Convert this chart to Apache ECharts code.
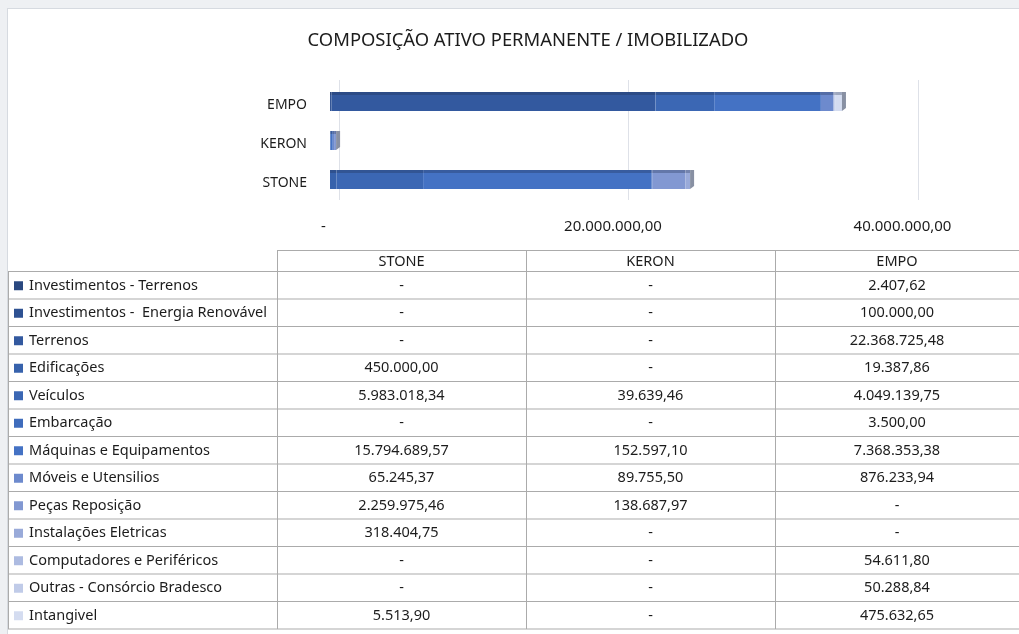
<!DOCTYPE html>
<html>
<head>
<meta charset="utf-8">
<script src="https://cdn.jsdelivr.net/npm/echarts@6/dist/echarts.min.js"></script>
<style>
  html, body { margin: 0; padding: 0; background: #fff; }
  #chart { width: 1019px; height: 634px; }
</style>
</head>
<body>
<div id="chart"></div>
<script>
// data
const categories = ["STONE", "KERON", "EMPO"];
const itemNames = [
  "Investimentos - Terrenos",
  "Investimentos -  Energia Renovável",
  "Terrenos",
  "Edificações",
  "Veículos",
  "Embarcação",
  "Máquinas e Equipamentos",
  "Móveis e Utensilios",
  "Peças Reposição",
  "Instalações Eletricas",
  "Computadores e Periféricos",
  "Outras - Consórcio Bradesco",
  "Intangivel",
];
const stoneValues = [null, null, null, 450000.0, 5983018.34, null, 15794689.57, 65245.37, 2259975.46, 318404.75, null, null, 5513.9];
const keronValues = [null, null, null, null, 39639.46, null, 152597.1, 89755.5, 138687.97, null, null, null, null];
const empoValues = [2407.62, 100000.0, 22368725.48, 19387.86, 4049139.75, 3500.0, 7368353.38, 876233.94, null, null, 54611.8, 50288.84, 475632.65];
const axisTicks = [0, 20000000, 40000000];

const palette = [
  "#2A4880", "#2E5192", "#33599F", "#3762AC", "#3B67B4", "#3F6CBC",
  "#4472C4", "#6D8ACD", "#8298D2", "#99AAD9", "#ADBBE1", "#C0CBE8", "#D4DCF0",
];

const FONT = "Noto Sans";
const TEXT = "#1C1C1C";

const fmt = (v) => {
  if (v == null || v === 0) return "-";
  let parts = v.toFixed(2).split(".");
  let int = parts[0].replace(/\B(?=(\d{3})+(?!\d))/g, ".");
  return int + "," + parts[1];
};

const mix = (c1, c2, t) => {
  let a = parseInt(c1.slice(1), 16), b = parseInt(c2.slice(1), 16);
  let r = Math.round(((a >> 16) & 255) * (1 - t) + ((b >> 16) & 255) * t);
  let g = Math.round(((a >> 8) & 255) * (1 - t) + ((b >> 8) & 255) * t);
  let bl = Math.round((a & 255) * (1 - t) + (b & 255) * t);
  return "rgb(" + r + "," + g + "," + bl + ")";
};

const barFill = (base) =>
  new echarts.graphic.LinearGradient(0, 0, 0, 1, [
    { offset: 0, color: mix(base, "#1C2A4A", 0.3) },
    { offset: 0.16, color: mix(base, "#1C2A4A", 0.3) },
    { offset: 0.16, color: base },
    { offset: 1, color: base },
  ]);

let chart = echarts.init(document.getElementById("chart"), null, { renderer: "canvas" });

let barSeries = itemNames.map((name, i) => ({
  type: "bar",
  name: name,
  stack: "total",
  barWidth: 19,
  xAxisIndex: 0,
  yAxisIndex: 0,
  data: [stoneValues[i], keronValues[i], empoValues[i]],
  itemStyle: { color: barFill(palette[i]) },
  emphasis: { disabled: true },
}));

// end face of each 3d bar
const totals = categories.map((c, k) => {
  let arr = [stoneValues, keronValues, empoValues][k];
  return arr.reduce((s, v) => s + (v || 0), 0);
});

let capSeries = {
  type: "custom",
  xAxisIndex: 0,
  yAxisIndex: 0,
  data: totals.map((t, k) => [t, k]),
  renderItem: (params, api) => {
    let p = api.coord([api.value(0), api.value(1)]);
    let x = p[0], y = p[1];
    return {
      type: "polygon",
      shape: { points: [[x, y - 9.5], [x + 4, y - 9.5], [x + 4, y + 6.5], [x, y + 9.5]] },
      style: { fill: "#8890A3" },
    };
  },
  z: 3,
};

// data table below the chart
const tableTop = 250;
const headerBottom = 271.5;
const rowH = 27.5;
const colX = [8, 277, 526, 775, 1030];
const lineColor = "#ABABAB";
let table = [];

const hline = (x1, x2, y) => ({
  type: "line",
  shape: { x1: x1, y1: y, x2: x2, y2: y },
  style: { stroke: lineColor, lineWidth: 1 },
  silent: true,
});
const vline = (x, y1, y2) => ({
  type: "line",
  shape: { x1: x, y1: y1, x2: x, y2: y2 },
  style: { stroke: lineColor, lineWidth: 1 },
  silent: true,
});
const cell = (txt, x, y, align) => ({
  type: "text",
  x: x,
  y: y,
  style: {
    text: txt, fill: TEXT, font: "14.5px '" + FONT + "'",
    textAlign: align || "center", textVerticalAlign: "middle",
  },
  silent: true,
});

let tableBottom = headerBottom + rowH * itemNames.length;
table.push(hline(colX[1], colX[4], tableTop + 0.5));
for (let r = 0; r <= itemNames.length; r++) {
  table.push(hline(colX[0], colX[4], headerBottom + r * rowH));
}
table.push(vline(colX[0] + 0.5, headerBottom, tableBottom));
for (let c = 1; c < 4; c++) {
  table.push(vline(colX[c] + 0.5, tableTop, tableBottom));
}
categories.forEach((name, c) => {
  table.push(cell(name, (colX[c + 1] + Math.min(colX[c + 2], 1019)) / 2, (tableTop + headerBottom) / 2 + 1.5));
});
const columns = [stoneValues, keronValues, empoValues];
itemNames.forEach((name, r) => {
  let yc = headerBottom + r * rowH + rowH / 2 + 0.5;
  table.push({
    type: "rect",
    shape: { x: 14, y: yc - 4.5, width: 9, height: 9 },
    style: { fill: palette[r] },
    silent: true,
  });
  table.push(cell(name, 29, yc, "left"));
  columns.forEach((vals, c) => {
    table.push(cell(fmt(vals[r]), (colX[c + 1] + Math.min(colX[c + 2], 1019)) / 2, yc));
  });
});

// outer frame strips
let frame = [
  { type: "rect", shape: { x: 0, y: 0, width: 1019, height: 8 }, style: { fill: "#EEF0F3" }, silent: true, z: -10 },
  { type: "rect", shape: { x: 0, y: 0, width: 7, height: 634 }, style: { fill: "#EEF0F3" }, silent: true, z: -10 },
  { type: "line", shape: { x1: 7, y1: 8.5, x2: 1019, y2: 8.5 }, style: { stroke: "#D6DAE0" }, silent: true },
  { type: "line", shape: { x1: 7.5, y1: 8, x2: 7.5, y2: 634 }, style: { stroke: "#D6DAE0" }, silent: true },
];

let option = {
  backgroundColor: "#ffffff",
  animation: false,
  title: {
    text: "COMPOSIÇÃO ATIVO PERMANENTE / IMOBILIZADO",
    left: 523,
    textAlign: "center",
    top: 27,
    textStyle: { fontFamily: FONT, fontSize: 18.4, fontWeight: "normal", color: TEXT },
  },
  grid: [
    { left: 330, right: 110, top: 82, height: 117 },
    { left: 339, right: 101, top: 80, height: 120 },
  ],
  xAxis: [
    {
      type: "value",
      gridIndex: 0,
      min: axisTicks[0],
      max: axisTicks[axisTicks.length - 1],
      interval: axisTicks[1] - axisTicks[0],
      axisLine: { show: false },
      axisTick: { show: false },
      splitLine: { show: false },
      axisLabel: {
        margin: 20,
        padding: [0, 13, 0, 0],
        fontFamily: FONT,
        fontSize: 15,
        color: TEXT,
        formatter: (v) => fmt(v),
      },
    },
    {
      type: "value",
      gridIndex: 1,
      min: axisTicks[0],
      max: axisTicks[axisTicks.length - 1],
      interval: axisTicks[1] - axisTicks[0],
      axisLine: { show: false },
      axisTick: { show: false },
      axisLabel: { show: false },
      splitLine: { show: true, lineStyle: { color: "#DEE1E8", width: 1 } },
    },
  ],
  yAxis: [
    {
      type: "category",
      gridIndex: 0,
      data: categories,
      axisLine: { show: false },
      axisTick: { show: false },
      axisLabel: {
        margin: 23,
        formatter: (v) => "{c|" + v + "}",
        rich: {
          c: { padding: [7, 0, 0, 0], fontFamily: FONT, fontSize: 14, color: TEXT },
        },
      },
    },
    {
      type: "category",
      gridIndex: 1,
      data: categories,
      show: false,
    },
  ],
  series: barSeries.concat([capSeries]),
  graphic: frame.concat(table),
};

chart.setOption(option);
window.addEventListener("resize", chart.resize);
</script>
</body>
</html>
